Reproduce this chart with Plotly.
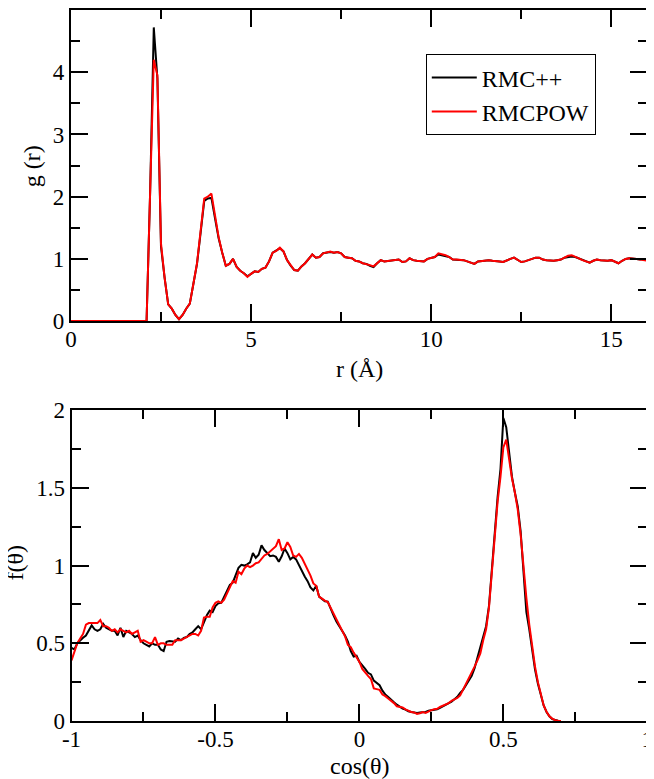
import numpy as np
import plotly.graph_objects as go

# ---- data: radial distribution g(r), r in Angstrom, step 0.1 ----
r = np.round(np.arange(161) * 0.1, 1)

g_rmcpp = [0.0] * 22 + [
    2.1, 4.72, 3.9, 1.2, 0.7, 0.27, 0.2, 0.1, 0.03, 0.1,
    0.2, 0.28, 0.6, 0.92, 1.42, 1.93, 1.97, 1.98, 1.65, 1.33,
    1.1, 0.89, 0.92, 1.0, 0.87, 0.81, 0.77, 0.72, 0.76, 0.80,
    0.79, 0.84, 0.86, 0.96, 1.10, 1.13, 1.17, 1.12, 0.98, 0.89,
    0.82, 0.81, 0.88, 0.93, 1.0, 1.07, 1.02, 1.03, 1.09, 1.10,
    1.11, 1.10, 1.11, 1.09, 1.03, 1.02, 1.01, 0.97, 0.96, 0.93,
    0.92, 0.89, 0.87, 0.93, 0.98, 0.96, 0.97, 0.98, 0.98, 0.99,
    0.95, 0.96, 1.01, 0.98, 0.97, 0.96, 0.96, 1.0, 1.01, 1.03,
    1.07, 1.06, 1.05, 1.03, 0.99, 0.99, 0.99, 0.98, 0.96, 0.94,
    0.92, 0.96, 0.97, 0.98, 0.98, 0.97, 0.97, 0.96, 0.95, 0.98,
    1.0, 1.02, 0.99, 0.95, 0.96, 0.98, 0.99, 1.02, 1.02, 0.99,
    0.98, 0.97, 0.97, 0.98, 0.99, 1.02, 1.03, 1.04, 1.03, 1.01,
    0.98, 0.96, 0.94, 0.97, 0.99, 0.98, 0.97, 0.97, 0.98, 0.96,
    0.93, 0.97, 1.0, 1.01, 1.01, 1.0, 0.99, 1.0, 0.99,
]
g_rmcpow = [0.0] * 22 + [
    2.1, 4.2, 3.95, 1.25, 0.7, 0.27, 0.2, 0.1, 0.03, 0.1,
    0.2, 0.28, 0.6, 0.93, 1.45, 1.97, 2.0, 2.05, 1.7, 1.35,
    1.1, 0.89, 0.92, 1.0, 0.87, 0.81, 0.77, 0.71, 0.76, 0.80,
    0.79, 0.84, 0.86, 0.96, 1.10, 1.13, 1.18, 1.12, 0.98, 0.89,
    0.82, 0.81, 0.88, 0.93, 1.0, 1.07, 1.02, 1.03, 1.09, 1.10,
    1.12, 1.10, 1.11, 1.09, 1.03, 1.02, 1.01, 0.97, 0.96, 0.93,
    0.92, 0.90, 0.88, 0.93, 0.98, 0.96, 0.97, 0.98, 0.98, 0.99,
    0.95, 0.96, 1.01, 0.98, 0.97, 0.96, 0.96, 1.0, 1.01, 1.03,
    1.09, 1.08, 1.06, 1.03, 0.99, 0.99, 0.99, 0.98, 0.96, 0.94,
    0.92, 0.96, 0.97, 0.98, 0.98, 0.97, 0.97, 0.96, 0.95, 0.98,
    1.0, 1.02, 0.99, 0.95, 0.96, 0.98, 0.99, 1.02, 1.02, 0.99,
    0.98, 0.97, 0.97, 0.98, 0.99, 1.02, 1.05, 1.06, 1.04, 1.01,
    0.98, 0.96, 0.94, 0.97, 0.99, 0.98, 0.97, 0.97, 0.98, 0.96,
    0.93, 0.97, 1.0, 1.01, 1.01, 1.0, 0.99, 0.98, 0.97,
]

# ---- data: bond angle distribution f(theta) vs cos(theta), step 0.01 ----
cos_t = np.round(np.arange(-100, 71) * 0.01, 2)

f_rmcpp = [
    0.47, 0.46, 0.50, 0.52, 0.535, 0.55, 0.58, 0.615, 0.59, 0.58,
    0.59, 0.625, 0.60, 0.59, 0.58, 0.58, 0.55, 0.60, 0.54, 0.58,
    0.57, 0.56, 0.54, 0.55, 0.52, 0.50, 0.49, 0.48, 0.50, 0.49,
    0.49, 0.46, 0.45, 0.51, 0.515, 0.51, 0.51, 0.53, 0.52, 0.535,
    0.54, 0.56, 0.57, 0.59, 0.61, 0.59, 0.64, 0.68, 0.71, 0.70,
    0.74, 0.757, 0.76, 0.80, 0.84, 0.875, 0.89, 0.945, 0.985, 1.005,
    1.00, 1.008, 1.02, 1.08, 1.05, 1.07, 1.13, 1.10, 1.08, 1.06,
    1.065, 1.056, 1.025, 1.06, 1.11, 1.08, 1.04, 1.055, 1.04, 1.0,
    0.96, 0.93, 0.90, 0.86, 0.84, 0.87, 0.80, 0.785, 0.77, 0.768,
    0.72, 0.68, 0.64, 0.61, 0.575, 0.55, 0.51, 0.45, 0.415, 0.42,
    0.38, 0.36, 0.335, 0.31, 0.30, 0.26, 0.247, 0.23, 0.195, 0.17,
    0.155, 0.135, 0.12, 0.105, 0.092, 0.08, 0.073, 0.062, 0.058, 0.053,
    0.052, 0.054, 0.055, 0.058, 0.066, 0.069, 0.072, 0.075, 0.085, 0.095,
    0.102, 0.115, 0.125, 0.14, 0.155, 0.18, 0.20, 0.23, 0.26, 0.29,
    0.34, 0.41,
    0.465, 0.54, 0.61, 0.74, 0.98, 1.23, 1.44, 1.62, 1.95, 1.89,
    1.72, 1.57, 1.47, 1.38, 1.22, 0.95, 0.70, 0.59, 0.46, 0.33,
    0.24, 0.17, 0.10, 0.058, 0.03, 0.012, 0.004, 0.001, 0.0,
]
f_rmcpow = [
    0.39, 0.45, 0.50, 0.53, 0.56, 0.62, 0.63, 0.63, 0.63, 0.63,
    0.65, 0.61, 0.61, 0.60, 0.58, 0.59, 0.57, 0.59, 0.58, 0.57,
    0.58, 0.56, 0.57, 0.58, 0.51, 0.52, 0.51, 0.50, 0.50, 0.54,
    0.49, 0.50, 0.50, 0.49, 0.49, 0.49, 0.52, 0.52, 0.52, 0.53,
    0.54, 0.545, 0.56, 0.56, 0.55, 0.58, 0.665, 0.67, 0.67, 0.73,
    0.76, 0.77, 0.76, 0.78, 0.82, 0.86, 0.90, 0.89, 0.96, 0.945,
    0.98, 1.00, 0.99, 1.00, 1.015, 1.02, 1.04, 1.065, 1.075, 1.09,
    1.11, 1.125, 1.17, 1.10, 1.11, 1.15, 1.12, 1.065, 1.056, 1.075,
    1.05, 1.01, 0.98, 0.935, 0.885, 0.87, 0.80, 0.785, 0.775, 0.765,
    0.73, 0.69, 0.66, 0.615, 0.58, 0.545, 0.49, 0.475, 0.44, 0.41,
    0.38, 0.335, 0.31, 0.29, 0.27, 0.21, 0.205, 0.20, 0.17, 0.16,
    0.144, 0.13, 0.115, 0.095, 0.09, 0.087, 0.075, 0.065, 0.058, 0.055,
    0.046, 0.05, 0.058, 0.052, 0.062, 0.07, 0.075, 0.078, 0.09, 0.097,
    0.108, 0.115, 0.13, 0.14, 0.148, 0.165, 0.20, 0.24, 0.275, 0.31,
    0.35, 0.39,
    0.435, 0.52, 0.59, 0.73, 0.96, 1.2, 1.41, 1.57, 1.76, 1.81,
    1.67, 1.56, 1.47, 1.36, 1.20, 0.98, 0.79, 0.62, 0.48, 0.35,
    0.25, 0.17, 0.10, 0.06, 0.03, 0.015, 0.005, 0.002, 0.0,
]

# bottom x tick labels use a plain hyphen like the original
cos_tickvals = [-1, -0.5, 0, 0.5, 1]
cos_ticktext = ["-1", "-0.5", "0", "0.5", "1"]

# page is drawn with an 8px body margin, so the figure is 8px smaller
PAD = 8
W, H = 654 - PAD, 779 - PAD
# the top panel's axes keep automargin on; their end labels push the
# left margin by half a "0" and the bottom margin by half a label height
ML, MB = 5.75, 13.3
PW, PH = W - ML, H - MB
FONT = "Liberation Serif"


def fx(px):  # page pixel -> paper x
    return (px - PAD - ML) / PW


def fy(py):  # page pixel -> paper y
    return 1 - (py - PAD) / PH


fig = go.Figure()
fig.add_trace(go.Scatter(x=r, y=g_rmcpp, mode="lines", name="RMC++",
                         line=dict(color="#000000", width=2), xaxis="x", yaxis="y"))
fig.add_trace(go.Scatter(x=r, y=g_rmcpow, mode="lines", name="RMCPOW",
                         line=dict(color="#ff0000", width=2), xaxis="x", yaxis="y"))
fig.add_trace(go.Scatter(x=cos_t, y=f_rmcpp, mode="lines", showlegend=False,
                         line=dict(color="#000000", width=2), xaxis="x2", yaxis="y2"))
fig.add_trace(go.Scatter(x=cos_t, y=f_rmcpow, mode="lines", showlegend=False,
                         line=dict(color="#ff0000", width=2), xaxis="x2", yaxis="y2"))

tf = dict(family=FONT, size=23, color="black")
top = dict(showline=True, linecolor="black", linewidth=2, mirror="ticks",
           ticks="inside", ticklen=17, tickwidth=2, tickcolor="black",
           showgrid=False, zeroline=False, tickfont=tf)
bot = dict(showline=True, linecolor="black", linewidth=2, mirror="ticks",
           ticks="inside", ticklen=17, tickwidth=2, tickcolor="black",
           showgrid=False, zeroline=False, automargin=False,
           ticklabeloverflow="allow", tickfont=tf)


def minor(step):
    return dict(dtick=step, tick0=0, ticklen=9, tickwidth=2, ticks="inside",
                tickcolor="black", showgrid=False)


fig.update_layout(
    width=W, height=H,
    margin=dict(l=0, r=0, t=0, b=0),
    paper_bgcolor="white", plot_bgcolor="white",
    font=dict(family=FONT, size=23, color="black"),
    xaxis=dict(domain=[fx(70.7), fx(647.3)], range=[0, 16], dtick=5, tick0=0,
               anchor="y", minor=minor(2.5), ticklabelstandoff=-4, **top),
    yaxis=dict(domain=[fy(321), fy(10)], range=[0, 5], dtick=1, tick0=0,
               anchor="x", minor=minor(0.5), **top),
    xaxis2=dict(domain=[fx(71.3), fx(647.3)], range=[-1, 1], tickvals=cos_tickvals,
                ticktext=cos_ticktext, anchor="y2", minor=minor(0.25),
                ticklabelstandoff=-4, **bot),
    yaxis2=dict(domain=[fy(720.7), fy(410)], range=[0, 2], dtick=0.5, tick0=0,
                anchor="x2", minor=minor(0.25), **bot),
    legend=dict(x=fx(425.7), y=fy(54.3), xanchor="left", yanchor="top",
                bgcolor="white", bordercolor="black", borderwidth=1,
                font=dict(family=FONT, size=24, color="black"), itemwidth=45),
    annotations=[
        dict(text="g (r)", x=fx(32), y=fy(166), textangle=-90),
        dict(text="r (Å)", x=fx(359), y=fy(369), textangle=0),
        dict(text="f(θ)", x=fx(15), y=fy(563), textangle=-90),
        dict(text="cos(θ)", x=fx(359), y=fy(766), textangle=0),
    ],
)
fig.update_annotations(xref="paper", yref="paper", showarrow=False,
                       xanchor="center", yanchor="middle",
                       font=dict(family=FONT, size=24, color="black"))

fig.write_html("out.html")
